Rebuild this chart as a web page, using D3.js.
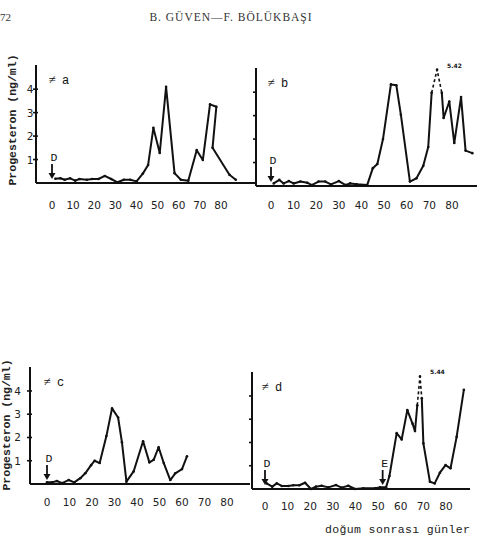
<!DOCTYPE html>
<html>
<head>
<meta charset="utf-8">
<script src="https://cdn.jsdelivr.net/npm/d3@7"></script>
<style>
  html, body { margin: 0; padding: 0; background: #fff; overflow: hidden; }
  svg { display: block; }
</style>
</head>
<body>
<div id="chart"></div>
<script>
// tick labels
const ticksX = [0, 10, 20, 30, 40, 50, 60, 70, 80];
const ticksY = [1, 2, 3, 4];

// [day, progesterone ng/ml]
const seriesA = [
    [1.6, 0.18], [4, 0.2], [6, 0.14], [8.6, 0.2], [11, 0.1], [13, 0.17], [16.5, 0.14],
    [19, 0.17], [22, 0.17], [25, 0.3], [28, 0.17], [31, 0.03], [34, 0.14], [37, 0.14],
    [40, 0.07], [43, 0.4], [45.5, 0.77], [48, 2.35], [51, 1.28], [54, 4.1], [58, 0.42],
    [61, 0.14], [64.5, 0.1], [68.5, 1.4], [71.4, 0.98], [74.8, 3.35], [77.8, 3.25],
    [76, 1.5], [84, 0.35], [87, 0.14]
];
const seriesB = [
    [1.2, 0.11], [3.7, 0.26], [5.6, 0.11], [7.9, 0.21], [10, 0.11], [13, 0.19], [16, 0.14],
    [18, 0.04], [21, 0.19], [24, 0.19], [26.5, 0.07], [30, 0.21], [33, 0.04], [35, 0.11],
    [38, 0.07], [42.5, 0.04], [45, 0.76], [47, 0.94], [49.5, 2.0], [53, 4.33], [55.4, 4.29],
    [57.4, 3.04], [61.4, 0.19], [64.3, 0.33], [67.3, 0.86], [69.5, 1.66], [71, 3.97],
    [73.4, 4.96], [75.5, 3.97], [76.3, 2.9], [78.8, 3.6], [81, 1.83], [84, 3.79], [86, 1.51],
    [89, 1.4]
];
const seriesC = [
    [0, 0.07], [2.2, 0.07], [4.4, 0.13], [6.7, 0.04], [9.6, 0.17], [12.1, 0.07], [14.8, 0.25],
    [17, 0.46], [19.6, 0.81], [21.2, 1.0], [23.4, 0.9], [26.4, 2.06], [28.9, 3.25], [31.6, 2.86],
    [33.3, 1.8], [35.3, 0.1], [38.5, 0.54], [42.7, 1.84], [45.5, 0.93], [47.4, 1.04], [49.6, 1.58],
    [51.9, 0.9], [54.8, 0.17], [57, 0.46], [60, 0.64], [62.2, 1.19]
];
const seriesD = [
    [0.7, 0.24], [3.2, 0.1], [5.2, 0.24], [7.4, 0.13], [10.3, 0.13], [12.5, 0.16], [15.2, 0.16],
    [17.7, 0.27], [20.3, 0.0], [22.5, 0.1], [25, 0.14], [28, 0.07], [31.4, 0.17], [33.9, 0.06],
    [36.8, 0.14], [39.8, 0.0], [43.4, 0.03], [48.6, 0.03], [50.8, 0.07], [53.5, 0.07], [55, 0.56],
    [58.2, 2.4], [60.4, 2.13], [62.9, 3.39], [65.2, 2.81], [66.3, 2.49], [67.3, 3.6], [68.5, 4.84],
    [69.3, 3.9], [70, 1.96], [72.9, 0.31], [75, 0.24], [77.3, 0.7], [79.8, 1.03], [82, 0.89],
    [84.7, 2.24], [87.9, 4.27]
];

// off-scale peaks, drawn broken with the real value written beside them
const peakLabels = { b: "5.42", d: "5.44" };
// event arrows (day)
const markersA = [{ day: 0, text: "D" }];
const markersB = [{ day: 0, text: "D" }];
const markersC = [{ day: 0, text: "D" }];
const markersD = [{ day: 0, text: "D" }, { day: 52, text: "E" }];

const width = 477, height = 536;
const ink = "#111";
const mono = "'Liberation Mono', 'DejaVu Sans Mono', monospace";
const sans = "'DejaVu Sans', 'Liberation Sans', sans-serif";
const serif = "'Liberation Serif', 'DejaVu Serif', serif";

const svg = d3.select("#chart").append("svg")
    .attr("width", width)
    .attr("height", height);

// page header of the scanned article
svg.append("text").attr("x", 0).attr("y", 21)
    .attr("font-family", serif).attr("font-size", 11).attr("fill", "#333").text("72");
svg.append("text").attr("x", 231).attr("y", 21).attr("text-anchor", "middle")
    .attr("font-family", serif).attr("font-size", 11.5).attr("fill", "#333")
    .attr("letter-spacing", 1).text("B. GÜVEN—F. BÖLÜKBAŞI");

const panels = [
    { id: "a", data: seriesA, markers: markersA, axisX: 36, axisEnd: 255, x0: 52, x80: 221, base: 183, top: 65, yLabels: 2.5, tickY: 209 },
    { id: "b", data: seriesB, markers: markersB, axisX: 256, axisEnd: 477, x0: 271, x80: 452, base: 186, top: 68, yLabels: null, tickY: 209 },
    { id: "c", data: seriesC, markers: markersC, axisX: 30, axisEnd: 250, x0: 47, x80: 227, base: 484, top: 367, yLabels: 9, tickY: 506 },
    { id: "d", data: seriesD, markers: markersD, axisX: 252, axisEnd: 470, x0: 265, x80: 446, base: 489, top: 372, yLabels: null, tickY: 510 }
];

const line = (x, y) => d3.line().x(d => x(d[0])).y(d => y(d[1]));

panels.forEach(p => {
    const g = svg.append("g");
    const x = d3.scaleLinear().domain([0, 80]).range([p.x0, p.x80]);
    const y = d3.scaleLinear().domain([0, 5]).range([p.base, p.base - 5 * (p.base - p.top) / 5.03]);

    // axes: plain lines as in the hand drawn figure
    g.append("line").attr("x1", p.axisX).attr("x2", p.axisEnd)
        .attr("y1", p.base).attr("y2", p.base)
        .attr("stroke", ink).attr("stroke-width", 2);
    g.append("line").attr("x1", p.axisX).attr("x2", p.axisX)
        .attr("y1", p.top).attr("y2", p.base)
        .attr("stroke", ink).attr("stroke-width", 2);

    g.selectAll(".ytick").data(ticksY).join("line")
        .attr("x1", p.axisX - 3).attr("x2", p.axisX + (p.yLabels ? 2 : 0))
        .attr("y1", d => y(d)).attr("y2", d => y(d))
        .attr("stroke", ink).attr("stroke-width", 1.6);

    if (p.yLabels) {
        g.selectAll(".ylab").data(ticksY).join("text")
            .attr("x", p.axisX - p.yLabels).attr("y", d => y(d) + 4)
            .attr("text-anchor", "end")
            .attr("font-family", sans).attr("font-size", 10.5).attr("fill", "#222")
            .text(d => d);
    }

    g.selectAll(".xlab").data(ticksX).join("text")
        .attr("x", d => x(d)).attr("y", p.tickY)
        .attr("text-anchor", "middle")
        .attr("font-family", sans).attr("font-size", 10.5).attr("fill", "#222")
        .text(d => d);

    // series; an off-scale peak is joined with dashed strokes
    const peak = d3.maxIndex(p.data, d => d[1]);
    const broken = peakLabels[p.id] !== undefined;
    const solidParts = broken ? [p.data.slice(0, peak), p.data.slice(peak + 1)] : [p.data];
    solidParts.forEach(part => {
        g.append("path").datum(part)
            .attr("d", line(x, y))
            .attr("fill", "none").attr("stroke", ink)
            .attr("stroke-width", 2).attr("stroke-linejoin", "round");
    });
    if (broken) {
        g.append("path").datum(p.data.slice(peak - 1, peak + 2))
            .attr("d", line(x, y))
            .attr("fill", "none").attr("stroke", ink)
            .attr("stroke-width", 1.6).attr("stroke-dasharray", "3,2.5");
        g.append("text")
            .attr("x", x(p.data[peak][0]) + 10).attr("y", y(p.data[peak][1]) - 2)
            .attr("font-family", sans).attr("font-size", 6).attr("font-weight", "bold")
            .attr("fill", ink).text(peakLabels[p.id]);
    }
    g.selectAll(".pt").data(p.data).join("circle")
        .attr("cx", d => x(d[0])).attr("cy", d => y(d[1]))
        .attr("r", 1.3).attr("fill", ink);

    // animal label
    g.append("text").attr("x", x(0)).attr("y", y(4.2))
        .attr("text-anchor", "middle")
        .attr("font-family", serif).attr("font-size", 13).attr("fill", ink).text("≠");
    g.append("text").attr("x", x(0) + 10).attr("y", y(4.2))
        .attr("font-family", mono).attr("font-size", 12).attr("fill", ink).text(p.id);

    // D / E arrows
    p.markers.forEach(m => {
        const mx = x(m.day);
        g.append("text").attr("x", mx + 2).attr("y", p.base - 22)
            .attr("text-anchor", "middle")
            .attr("font-family", mono).attr("font-size", 11.5).attr("fill", ink).text(m.text);
        g.append("line").attr("x1", mx).attr("x2", mx)
            .attr("y1", p.base - 19).attr("y2", p.base - 9)
            .attr("stroke", ink).attr("stroke-width", 1.8);
        g.append("path")
            .attr("d", `M${mx - 3.5},${p.base - 10} L${mx + 3.5},${p.base - 10} L${mx},${p.base - 4} Z`)
            .attr("fill", ink);
    });
});

// y axis titles (the lower one sits at the page edge in the scan)
svg.append("text")
    .attr("transform", "translate(16,120) rotate(-90)")
    .attr("text-anchor", "middle")
    .attr("font-family", mono).attr("font-size", 11.5).attr("font-weight", "bold").attr("fill", "#222")
    .text("Progesteron (ng/ml)");
svg.append("text")
    .attr("transform", "translate(10,425) rotate(-90)")
    .attr("text-anchor", "middle")
    .attr("font-family", mono).attr("font-size", 11.5).attr("font-weight", "bold").attr("fill", "#222")
    .text("Progesteron (ng/ml)");

// x axis title
svg.append("text").attr("x", 325).attr("y", 533)
    .attr("font-family", mono).attr("font-size", 11.5).attr("fill", "#222")
    .attr("textLength", 145).attr("lengthAdjust", "spacing")
    .text("doğum sonrası günler");
</script>
</body>
</html>
